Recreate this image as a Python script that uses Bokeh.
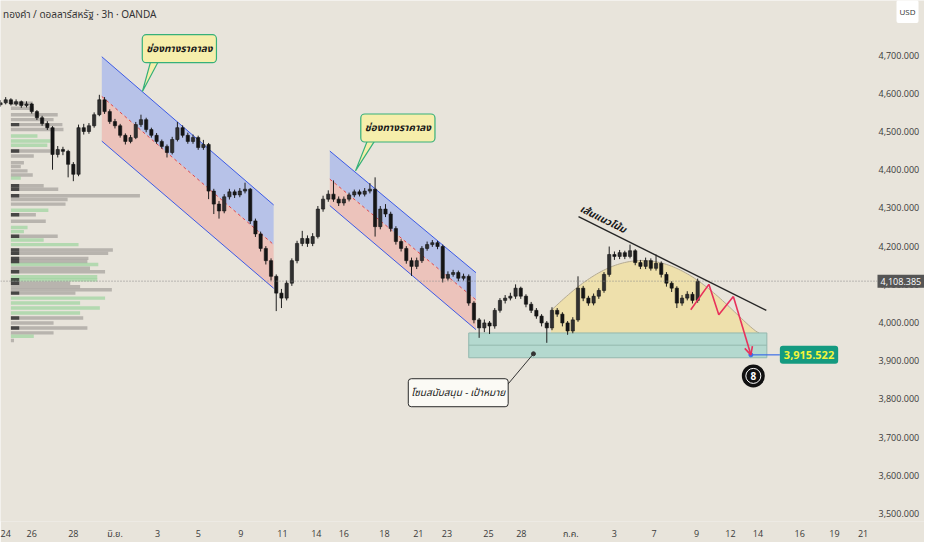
import numpy as np
from bokeh.plotting import figure
from bokeh.models import (FixedTicker, NumeralTickFormatter, Label, Arrow,
                          OpenHead, Range1d, ColumnDataSource)
from bokeh.embed import file_html
from bokeh.resources import INLINE

TITLE = "ทองคำ / ดอลลาร์สหรัฐ · 3h · OANDA"
BG = "#e8e4db"
FONT = "Open Sans, Noto Sans Thai, Noto Sans, sans-serif"
TFONT = "Noto Sans Thai, Noto Sans, Open Sans, sans-serif"

# ---------------- candles (3h bars, bar index) ----------------
open_first = 4570
close_ = [
    4575, 4583, 4572, 4578, 4568, 4572, 4552, 4536, 4521, 4510,
    4440, 4453, 4448, 4414, 4388, 4510, 4500, 4515, 4544, 4583,
    4552, 4526, 4515, 4490, 4474, 4484, 4518, 4531, 4505, 4490,
    4474, 4461, 4445, 4479, 4510, 4490, 4474, 4484, 4458, 4466,
    4344, 4310, 4292, 4329, 4342, 4334, 4344, 4349, 4266, 4232,
    4194, 4162, 4121, 4077, 4064, 4103, 4162, 4207, 4220, 4207,
    4225, 4297, 4323, 4336, 4323, 4313, 4323, 4334, 4342, 4336,
    4344, 4349, 4251, 4297, 4284, 4246, 4212, 4194, 4162, 4147,
    4162, 4194, 4204, 4209, 4199, 4116, 4126, 4131, 4116, 4121,
    4051, 4007, 3986, 3999, 3991, 4032, 4058, 4064, 4069, 4090,
    4069, 4048, 4032, 4017, 3999, 3986, 4032, 4022, 3999, 3978,
    4007, 4090, 4064, 4051, 4069, 4084, 4126, 4178, 4173, 4183,
    4173, 4188, 4157, 4147, 4162, 4142, 4155, 4126, 4103, 4090,
    4051, 4064, 4074, 4058, 4108.385]
high_ = [
    4582, 4590, 4587, 4584, 4581, 4579, 4575, 4556, 4541, 4527,
    4514, 4462, 4460, 4452, 4420, 4518, 4520, 4522, 4550, 4596,
    4590, 4558, 4533, 4520, 4495, 4491, 4525, 4544, 4536, 4510,
    4496, 4479, 4466, 4486, 4525, 4516, 4497, 4492, 4489, 4478,
    4470, 4350, 4318, 4336, 4350, 4348, 4352, 4366, 4352, 4272,
    4238, 4200, 4168, 4126, 4088, 4110, 4168, 4214, 4240, 4228,
    4234, 4305, 4332, 4346, 4372, 4330, 4330, 4340, 4348, 4348,
    4352, 4365, 4380, 4305, 4310, 4290, 4252, 4218, 4200, 4170,
    4170, 4200, 4212, 4216, 4214, 4204, 4134, 4138, 4136, 4128,
    4126, 4056, 4012, 4008, 4004, 4038, 4064, 4072, 4078, 4100,
    4094, 4074, 4054, 4038, 4022, 4004, 4040, 4038, 4027, 4004,
    4014, 4121, 4096, 4070, 4076, 4090, 4132, 4199, 4186, 4190,
    4188, 4204, 4192, 4164, 4170, 4168, 4178, 4160, 4132, 4108,
    4095, 4072, 4082, 4080, 4115]
low_ = [
    4565, 4571, 4568, 4567, 4562, 4563, 4547, 4530, 4515, 4504,
    4400, 4432, 4438, 4380, 4370, 4383, 4492, 4494, 4510, 4540,
    4546, 4520, 4508, 4484, 4466, 4469, 4480, 4512, 4498, 4484,
    4468, 4455, 4432, 4440, 4474, 4484, 4468, 4468, 4452, 4452,
    4323, 4284, 4272, 4286, 4322, 4326, 4328, 4338, 4258, 4224,
    4186, 4152, 4110, 4030, 4038, 4058, 4096, 4155, 4200, 4198,
    4200, 4220, 4290, 4316, 4316, 4305, 4306, 4317, 4328, 4330,
    4330, 4338, 4225, 4244, 4276, 4238, 4204, 4186, 4154, 4122,
    4140, 4156, 4188, 4198, 4192, 4105, 4110, 4120, 4108, 4110,
    4044, 3998, 3960, 3975, 3970, 3984, 4026, 4050, 4058, 4062,
    4062, 4040, 4025, 4010, 3990, 3947, 3980, 4015, 3990, 3968,
    3972, 4002, 4056, 4044, 4045, 4062, 4078, 4120, 4164, 4166,
    4166, 4168, 4150, 4140, 4140, 4136, 4136, 4118, 4094, 4080,
    4038, 4044, 4058, 4050, 4052]
last_price = 4108.385

# ---------------- axes ----------------
date_tick_pos = [0.2, 6.0, 14.0, 22.0, 30.2, 38.0, 46.2, 54.2, 60.7, 66.0, 73.8, 80.3,
                 85.8, 93.8, 100.1, 109.6, 118.0, 125.6, 133.8, 140.3, 145.6, 153.6,
                 160.3, 165.8]
date_tick_lbl = ["24", "26", "28", "มิ.ย.", "3", "5", "9", "11", "14", "16", "18", "21",
                 "23", "25", "28", "ก.ค.", "3", "7", "9", "12", "14", "16", "19", "21"]
price_ticks = [3500, 3600, 3700, 3800, 3900, 4000, 4100, 4200, 4300, 4400, 4500, 4600, 4700]

# ---------------- visible range volume profile ----------------
vp_price = [4574, 4561, 4544, 4531, 4518, 4505, 4488, 4475, 4464, 4449, 4436, 4418, 4408,
            4397, 4386, 4378, 4358, 4349, 4332, 4322, 4310, 4294, 4282, 4265, 4249, 4238,
            4226, 4216, 4204, 4190, 4181, 4168, 4160, 4152, 4142, 4133, 4120, 4112, 4103,
            4094, 4086, 4077, 4064, 4051, 4038, 4025, 4012, 3999, 3986, 3973, 3964, 3953]
vp_vol = [4.2, 4.4, 9.0, 8.2, 9.9, 10.1, 5.1, 7.6, 7.0, 7.6, 4.4, 2.5, 1.9, 3.2, 4.2, 1.9,
          6.3, 9.1, 24.8, 10.9, 10.5, 7.2, 4.8, 6.7, 3.2, 2.5, 9.0, 6.3, 13.0, 19.6, 18.7,
          14.9, 14.7, 16.8, 15.2, 18.1, 16.6, 16.6, 11.4, 13.3, 19.4, 12.4, 18.1, 13.3,
          17.1, 13.3, 13.9, 8.2, 14.7, 8.2, 4.4, 0.6]
vp_up = [0, 0, 0, 0, 0, 0, 1, 1, 1, 0, 0, 0, 0, 0, 0, 1, 0, 0, 0, 0, 0, 1, 0, 0, 1, 1,
         0, 1, 1, 0, 0, 0, 0, 1, 0, 0, 1, 1, 0, 0, 0, 0, 1, 1, 1, 1, 0, 0, 0, 0, 1, 0]
vp_core = [0, 0, 0, 0, 1, 0, 0, 0, 0, 1, 0, 0, 0, 0, 0, 0, 1, 1, 1, 0, 0, 0, 1, 0, 0, 0,
           1, 0, 0, 1, 1, 1, 1, 0, 0, 1, 0, 1, 1, 0, 0, 1, 0, 0, 0, 0, 1, 0, 1, 0, 0, 0]

# ---------------- drawings (bar index, price) ----------------
ch1_x = [19.47, 52.5]
ch1_top = [4695.6, 4307.8]
ch1_mid = [4591.7, 4203.9]
ch1_bot = [4474.8, 4089.7]
ch2_x = [63.3, 91.4]
ch2_top = [4448.8, 4130.4]
ch2_mid = [4375.3, 4059.3]
ch2_bot = [4306.0, 3981.4]
zone_x = [90.0, 147.3]
zone_y = [3907.9, 3940.8, 3972.8]
trend_x = [111.1, 147.2]
trend_y = [4277.4, 4031.8]
path_x = [132.67, 136.15, 138.06, 140.86, 144.23]
path_y = [4033.3, 4100.0, 4020.3, 4068.1, 3915.522]
target = 3915.522

X_END = 177.6          # right edge of the window (price scale sits inside it)
SCALE_X = 167.3        # where the price scale begins

p = figure(width=924, height=542, x_range=Range1d(0, X_END), y_range=Range1d(3479.4, 4842.8),
           y_axis_location="right", output_backend="svg", toolbar_location=None,
           background_fill_color=BG, border_fill_color=BG,
           min_border_left=0, min_border_top=0, min_border_right=0, min_border_bottom=0)
p.grid.visible = False
p.outline_line_color = None

yax = p.yaxis[0]
yax.ticker = FixedTicker(ticks=price_ticks)
yax.formatter = NumeralTickFormatter(format="0,0.000")
xax = p.xaxis[0]
xax.ticker = FixedTicker(ticks=date_tick_pos)
xax.major_label_overrides = {t: l for t, l in zip(date_tick_pos, date_tick_lbl)}
for ax in (xax, yax):
    ax.axis_line_color = None
    ax.major_tick_line_color = None
    ax.minor_tick_line_color = None
    ax.major_tick_out = 0
    ax.major_tick_in = 0
    ax.minor_tick_out = 0
    ax.minor_tick_in = 0
    ax.major_label_text_font_size = "9px"
    ax.major_label_text_color = "#3a3a3a"
    ax.major_label_text_font = FONT
yax.major_label_standoff = -46
xax.major_label_standoff = 5

# volume profile
vp_start = 2.0
vp_h = 9.0
vp_src = ColumnDataSource(dict(
    y=vp_price, left=[vp_start] * len(vp_price),
    right=[vp_start + v for v in vp_vol],
    color=["#86cf8c" if u else "#8f8d88" for u in vp_up]))
p.hbar(y="y", left="left", right="right", height=vp_h, source=vp_src,
       fill_color="color", fill_alpha=0.55, line_color=None)
core_y = [pr for pr, c in zip(vp_price, vp_core) if c]
p.hbar(y=core_y, left=vp_start, right=vp_start + 1.6, height=vp_h,
       fill_color="#2a2a2a", fill_alpha=0.8, line_color=None)

# channels
for cx, ct, cm, cb in ((ch1_x, ch1_top, ch1_mid, ch1_bot), (ch2_x, ch2_top, ch2_mid, ch2_bot)):
    p.patch([cx[0], cx[1], cx[1], cx[0]], [ct[0], ct[1], cm[1], cm[0]],
            fill_color="#aebcea", fill_alpha=0.85, line_color=None)
    p.patch([cx[0], cx[1], cx[1], cx[0]], [cm[0], cm[1], cb[1], cb[0]],
            fill_color="#ecbdb5", fill_alpha=0.85, line_color=None)

# arc (rounded top)
arc_cx, arc_a, arc_left = 123.33, 22.48, -17.52
arc_top, arc_base = 4162.4, 3972.8
t = np.linspace(arc_left, arc_a, 120)
ay = arc_base + (arc_top - arc_base) * np.clip(1 - (t / arc_a) ** 2, 0, None) ** 1.26
ax_ = arc_cx + t
p.patch(list(ax_) + [arc_cx + arc_a, arc_cx + arc_left], list(ay) + [arc_base, arc_base],
        fill_color="#eedfa6", fill_alpha=0.9, line_color=None)
p.line(ax_, ay, line_color="#b5ab93", line_width=1)

# support zone
p.quad(left=zone_x[0], right=zone_x[1], bottom=zone_y[0], top=zone_y[2],
       fill_color="#a3d6cb", fill_alpha=0.75, line_color="#93b8ae", line_width=1)
p.line(zone_x, [zone_y[1], zone_y[1]], line_color="#93b8ae", line_width=1)

# channel borders
for cx, ct, cm, cb in ((ch1_x, ch1_top, ch1_mid, ch1_bot), (ch2_x, ch2_top, ch2_mid, ch2_bot)):
    p.line(cx, ct, line_color="#3c5ae6", line_width=1)
    p.line(cx, cb, line_color="#3c5ae6", line_width=1)
    p.line(cx, cm, line_color="#e0474b", line_width=1, line_dash="3 3")

# candles
n = len(close_)
bars = list(range(n))
open_ = [open_first] + close_[:-1]
up = [c >= o for o, c in zip(open_, close_)]
src = ColumnDataSource(dict(
    x=bars, o=open_, c=close_, h=high_, l=low_,
    top=[max(o, c) for o, c in zip(open_, close_)],
    bot=[min(o, c) for o, c in zip(open_, close_)],
    col=["#303030" if u else "#151515" for u in up]))
p.segment(x0="x", y0="h", x1="x", y1="l", source=src, line_color="#1e1e1e", line_width=1)
p.vbar(x="x", top="top", bottom="bot", width=0.62, source=src,
       fill_color="col", line_color="#151515", line_width=0.6)

# current price line (up to the price scale)
p.line([0, SCALE_X + 1.2], [last_price, last_price], line_color="#8a8a8a",
       line_dash="1 2", line_width=1)

# trend line
p.line(trend_x, trend_y, line_color="#262626", line_width=1.4)
p.add_layout(Label(x=115.8, y=4269.6, text="เส้นแนวโน้ม", angle=-26.5, angle_units="deg",
                   text_align="center", text_baseline="middle", text_font=TFONT,
                   text_font_size="10px", text_font_style="bold italic", text_color="#1a1a1a"))

# projected path
p.line(path_x[:-1], path_y[:-1], line_color="#e8315b", line_width=1.6)
p.add_layout(Arrow(x_start=path_x[-2], y_start=path_y[-2], x_end=path_x[-1], y_end=path_y[-1],
                   line_color="#e8315b", line_width=1.6,
                   end=OpenHead(size=8, line_color="#e8315b", line_width=1.6)))

# target
p.line([path_x[-1], 149.8], [target, target], line_color="#3d6ee8", line_width=1.2)
p.scatter([path_x[-1]], [target], size=4, color="#3d6ee8")
p.add_layout(Label(x=149.8, y=target, text="3,915.522", text_align="left", text_baseline="middle",
                   text_font=FONT, text_font_size="11px", text_font_style="bold",
                   text_color="#f3f43a", background_fill_color="#149a80",
                   border_radius=3, padding=(4, 5)))

# eight ball marker
p.scatter([144.7], [3860.4], size=23, fill_color="#111111", line_color=None)
p.scatter([144.7], [3860.4], size=15, fill_color=None, line_color="#ffffff", line_width=1)
p.add_layout(Label(x=144.7, y=3860.4, text="8", text_align="center", text_baseline="middle",
                   text_font=FONT, text_font_size="10px", text_font_style="bold",
                   text_color="#ffffff"))

# callouts
def callout(cx, cy, tail, txt):
    p.patch([tail[0], tail[1], tail[2]], [tail[3], tail[3], tail[4]],
            fill_color="#f6eeab", line_color="#35b07a", line_width=1.2)
    p.add_layout(Label(x=cx, y=cy, text=txt, text_align="center", text_baseline="middle",
                       text_font=TFONT, text_font_size="10px", text_font_style="bold italic",
                       text_color="#1a1a1a", background_fill_color="#f6eeab",
                       border_line_color="#35b07a", border_line_width=1.2,
                       border_radius=4, padding=(4, 6)))

callout(34.38, 4716.8, (29.2, 31.0, 27.28, 4700, 4604.7), "ช่องทางราคาลง")
callout(76.38, 4509.1, (71.0, 72.7, 68.23, 4492, 4396.9), "ช่องทางราคาลง")

# support/target note
p.line([96.5, 102.44], [3822.0, 3918.3], line_color="#333333", line_width=1)
p.scatter([102.44], [3918.3], size=4, color="#333333")
p.add_layout(Label(x=87.98, y=3816.4, text="โซนสนับสนุน - เป้าหมาย", text_align="center",
                   text_baseline="middle", text_font=TFONT, text_font_size="10px",
                   text_font_style="italic", text_color="#1a1a1a",
                   background_fill_color="#fbfaf5", border_line_color="#2a2a2a",
                   border_line_width=1, border_radius=3, padding=(3, 6)))

# title
p.add_layout(Label(x=0.5, y=4806, text=TITLE, text_align="left", text_baseline="middle",
                   text_font=TFONT, text_font_size="10px", text_color="#333333"))

# price tag and currency box on the price scale
p.add_layout(Label(x=X_END, y=last_price, x_offset=-47, text="4,108.385", text_align="left",
                   text_baseline="middle", text_font=FONT, text_font_size="9px",
                   text_color="#ffffff", background_fill_color="#555555", padding=(3, 3)))
p.add_layout(Label(x=X_END, y=4814, x_offset=-28, text="USD", text_align="left",
                   text_baseline="middle", text_font=FONT, text_font_size="8px",
                   text_color="#333333", background_fill_color="#ffffff",
                   border_radius=2, padding=(3, 6)))

open("out.html", "w").write(file_html(p, INLINE))
